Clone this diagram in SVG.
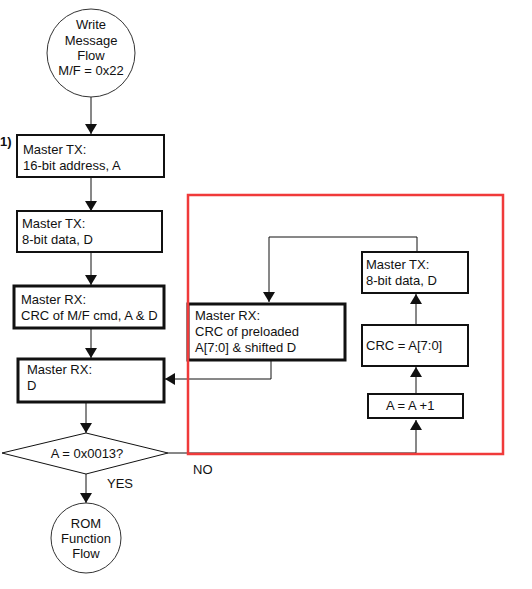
<svg xmlns="http://www.w3.org/2000/svg" width="532" height="589" viewBox="0 0 532 589">
<defs>
<style>
text{font-family:"Liberation Sans",Arial,sans-serif;font-size:13px;fill:#111}
.c{text-anchor:middle}
.term{fill:#fff;stroke:#333;stroke-width:1}
.box{fill:#fff;stroke:#111;stroke-width:2}
.thick{fill:#fff;stroke:#111;stroke-width:3}
.ln{fill:none;stroke:#111;stroke-width:1}
</style>
<marker id="ah" viewBox="0 0 10 12" refX="10" refY="6" markerWidth="10" markerHeight="12" markerUnits="userSpaceOnUse" orient="auto">
<path d="M0,0 L10,6 L0,12 Z" fill="#111"/>
</marker>
</defs>
<rect width="532" height="589" fill="#fff"/>
<g id="connectors">
<line class="ln" x1="91" y1="97" x2="91" y2="134" marker-end="url(#ah)"/>
<line class="ln" x1="91" y1="177" x2="91" y2="211" marker-end="url(#ah)"/>
<line class="ln" x1="91" y1="252" x2="91" y2="285" marker-end="url(#ah)"/>
<line class="ln" x1="91" y1="328" x2="91" y2="358" marker-end="url(#ah)"/>
<line class="ln" x1="86" y1="402" x2="86" y2="433" marker-end="url(#ah)"/>
<line class="ln" x1="86" y1="474" x2="86" y2="503" marker-end="url(#ah)"/>
<polyline class="ln" points="168,453 416,453 416,420" marker-end="url(#ah)"/>
<line class="ln" x1="416" y1="394" x2="416" y2="367" marker-end="url(#ah)"/>
<line class="ln" x1="416" y1="325" x2="416" y2="294" marker-end="url(#ah)"/>
<polyline class="ln" points="417,252 417,237 269,237 269,302" marker-end="url(#ah)"/>
<polyline class="ln" points="271,360 271,379 165,379" marker-end="url(#ah)"/>
</g>
<g id="start">
<circle class="term" cx="91" cy="53" r="44"/>
<text class="c" x="91" y="29">Write</text>
<text class="c" x="91" y="44.5">Message</text>
<text class="c" x="91" y="60">Flow</text>
<text class="c" x="91" y="75">M/F = 0x22</text>
</g>
<g id="step1">
<text x="0" y="146" style="font-weight:bold">1)</text>
<rect class="box" x="17" y="135" width="147" height="42"/>
<text x="23" y="154">Master TX:</text>
<text x="23" y="170">16-bit address, A</text>
</g>
<g id="txdata">
<rect class="box" x="17" y="211" width="145" height="41"/>
<text x="22" y="228">Master TX:</text>
<text x="22" y="244">8-bit data, D</text>
</g>
<g id="rxcrc">
<rect class="thick" x="14" y="286" width="150" height="42"/>
<text x="21" y="304">Master RX:</text>
<text x="21" y="320">CRC of M/F cmd, A &amp; D</text>
</g>
<g id="rxd">
<rect class="thick" x="18" y="359" width="146" height="43"/>
<text x="27" y="374">Master RX:</text>
<text x="27" y="390">D</text>
</g>
<g id="decision">
<polygon points="2,453 86,433 168,453 86,474" fill="#fff" stroke="#111" stroke-width="1"/>
<text class="c" x="87" y="458">A = 0x0013?</text>
<text x="107" y="488">YES</text>
<text x="193" y="474">NO</text>
</g>
<g id="end">
<circle class="term" cx="86" cy="538" r="35"/>
<text class="c" x="86" y="528">ROM</text>
<text class="c" x="86" y="543">Function</text>
<text class="c" x="86" y="558">Flow</text>
</g>
<g id="rxpre">
<rect class="thick" x="188" y="304" width="157" height="56"/>
<text x="195" y="320">Master RX:</text>
<text x="195" y="336">CRC of preloaded</text>
<text x="195" y="352">A[7:0] &amp; shifted D</text>
</g>
<g id="txdata2">
<rect class="box" x="362" y="252" width="106" height="41"/>
<text x="366" y="269">Master TX:</text>
<text x="366" y="285">8-bit data, D</text>
</g>
<g id="crcset">
<rect class="box" x="362" y="325" width="106" height="41"/>
<text x="366" y="350">CRC = A[7:0]</text>
</g>
<g id="inc">
<rect class="box" x="368" y="394" width="95" height="24"/>
<text x="386" y="410">A = A +1</text>
</g>
<rect id="highlight" x="188" y="195" width="315" height="259" fill="none" stroke="#f03a3a" stroke-width="2.5"/>
</svg>
